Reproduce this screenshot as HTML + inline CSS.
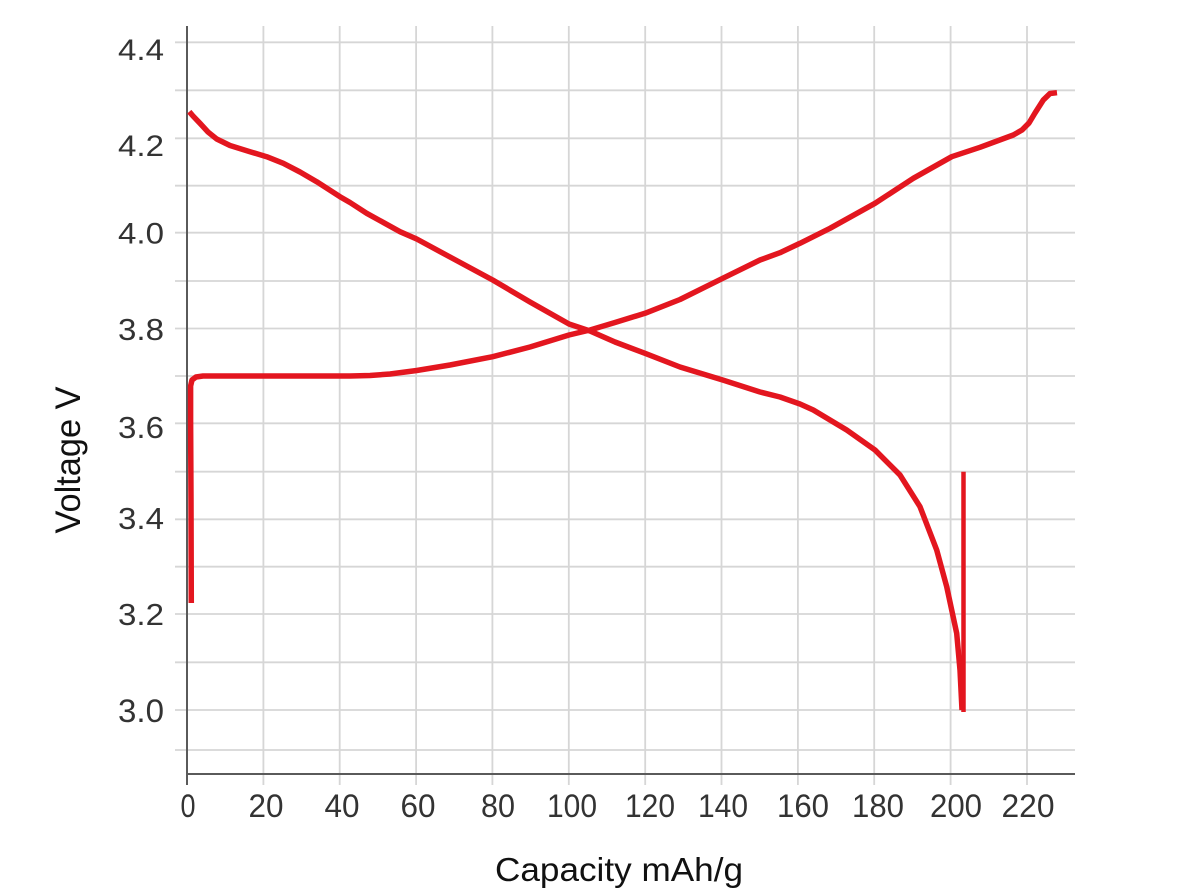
<!DOCTYPE html>
<html>
<head>
<meta charset="utf-8">
<style>
  html,body{margin:0;padding:0;background:#fff;}
  svg{display:block;}
  .tick{font-family:"Liberation Sans",Arial,sans-serif;font-size:32px;fill:#333;}
  .title{font-family:"Liberation Sans",Arial,sans-serif;fill:#111;}
</style>
</head>
<body>
<svg width="1200" height="895" viewBox="0 0 1200 895" xmlns="http://www.w3.org/2000/svg">
  <rect width="1200" height="895" fill="#fff"/>
  <!-- vertical gridlines -->
  <g stroke="#d6d6d6" stroke-width="1.8">
    <line x1="263.4" y1="26" x2="263.4" y2="785"/>
    <line x1="339.7" y1="26" x2="339.7" y2="785"/>
    <line x1="416.1" y1="26" x2="416.1" y2="785"/>
    <line x1="492.4" y1="26" x2="492.4" y2="785"/>
    <line x1="568.8" y1="26" x2="568.8" y2="785"/>
    <line x1="645.2" y1="26" x2="645.2" y2="785"/>
    <line x1="721.5" y1="26" x2="721.5" y2="785"/>
    <line x1="797.9" y1="26" x2="797.9" y2="785"/>
    <line x1="874.2" y1="26" x2="874.2" y2="785"/>
    <line x1="950.6" y1="26" x2="950.6" y2="785"/>
    <line x1="1027" y1="26" x2="1027" y2="785"/>
  </g>
  <!-- horizontal gridlines -->
  <g stroke="#d6d6d6" stroke-width="1.8">
    <line x1="175" y1="42.3" x2="1075" y2="42.3"/>
    <line x1="175" y1="90.3" x2="1075" y2="90.3"/>
    <line x1="175" y1="138.3" x2="1075" y2="138.3"/>
    <line x1="175" y1="185.7" x2="1075" y2="185.7"/>
    <line x1="175" y1="232.7" x2="1075" y2="232.7"/>
    <line x1="175" y1="281" x2="1075" y2="281"/>
    <line x1="175" y1="328.5" x2="1075" y2="328.5"/>
    <line x1="175" y1="376" x2="1075" y2="376"/>
    <line x1="175" y1="423.3" x2="1075" y2="423.3"/>
    <line x1="175" y1="471.7" x2="1075" y2="471.7"/>
    <line x1="175" y1="519.3" x2="1075" y2="519.3"/>
    <line x1="175" y1="566.7" x2="1075" y2="566.7"/>
    <line x1="175" y1="614" x2="1075" y2="614"/>
    <line x1="175" y1="662.3" x2="1075" y2="662.3"/>
    <line x1="175" y1="710" x2="1075" y2="710"/>
    <line x1="175" y1="750" x2="1075" y2="750"/>
  </g>
  <!-- axes -->
  <g stroke="#5a5a5a" stroke-width="2">
    <line x1="187" y1="26" x2="187" y2="785"/>
    <line x1="187" y1="774" x2="1075" y2="774"/>
  </g>

  <!-- y tick labels -->
  <g class="tick" text-anchor="end">
    <text x="164" y="60" font-size="30" textLength="46" lengthAdjust="spacingAndGlyphs">4.4</text>
    <text x="164" y="156" font-size="30" textLength="46" lengthAdjust="spacingAndGlyphs">4.2</text>
    <text x="164" y="243.5" font-size="30" textLength="46" lengthAdjust="spacingAndGlyphs">4.0</text>
    <text x="164" y="340" font-size="31" textLength="46" lengthAdjust="spacingAndGlyphs">3.8</text>
    <text x="164" y="438" font-size="31" textLength="46" lengthAdjust="spacingAndGlyphs">3.6</text>
    <text x="164" y="529" font-size="31" textLength="46" lengthAdjust="spacingAndGlyphs">3.4</text>
    <text x="164" y="625" font-size="31" textLength="46" lengthAdjust="spacingAndGlyphs">3.2</text>
    <text x="164" y="722" font-size="32" textLength="46" lengthAdjust="spacingAndGlyphs">3.0</text>
  </g>
  <!-- x tick labels -->
  <g class="tick" text-anchor="middle">
    <text x="188" y="817" textLength="15" lengthAdjust="spacingAndGlyphs">0</text>
    <text x="266" y="817" textLength="35" lengthAdjust="spacingAndGlyphs">20</text>
    <text x="342" y="817" textLength="35" lengthAdjust="spacingAndGlyphs">40</text>
    <text x="418" y="817" textLength="35" lengthAdjust="spacingAndGlyphs">60</text>
    <text x="498" y="817" textLength="34" lengthAdjust="spacingAndGlyphs">80</text>
    <text x="572" y="817" textLength="50" lengthAdjust="spacingAndGlyphs">100</text>
    <text x="650" y="817" textLength="50" lengthAdjust="spacingAndGlyphs">120</text>
    <text x="723" y="817" textLength="50" lengthAdjust="spacingAndGlyphs">140</text>
    <text x="803" y="817" textLength="52" lengthAdjust="spacingAndGlyphs">160</text>
    <text x="878" y="817" textLength="52" lengthAdjust="spacingAndGlyphs">180</text>
    <text x="956" y="817" textLength="52" lengthAdjust="spacingAndGlyphs">200</text>
    <text x="1028" y="817" textLength="53" lengthAdjust="spacingAndGlyphs">220</text>
  </g>

  <!-- axis titles -->
  <text class="title" x="619" y="881" font-size="33" text-anchor="middle" textLength="248" lengthAdjust="spacingAndGlyphs">Capacity mAh/g</text>
  <text class="title" transform="translate(80,460) rotate(-90)" x="0" y="0" font-size="35" text-anchor="middle" textLength="147" lengthAdjust="spacingAndGlyphs">Voltage V</text>

  <!-- charge curve -->
  <polyline fill="none" stroke="#e3161f" stroke-width="5.5" stroke-linejoin="round" stroke-linecap="butt"
    points="191.3,603 191,500 190.6,420 190.6,386 192,380 196,377 203,376 250,376 300,376 350,376 370,375.5 390,374 416.7,370.5 450,365 492.7,356.7 530,347 569,335 590,330 615,322.5 645,313.3 680,299.5 722.7,278.3 760,260 780,252.7 800,243.3 830,228.3 875,203.3 913.3,178.3 951.7,156.7 980,147.3 1013.3,135 1022,130 1029,123 1035,113 1043.3,100 1050,93.5 1057,92.7"/>
  <!-- discharge curve -->
  <polyline fill="none" stroke="#e3161f" stroke-width="5.5" stroke-linejoin="round" stroke-linecap="butt"
    points="189.3,111.7 193,116 200,123.3 208,132 216.7,139 230,145.5 250,151.7 266.7,156.7 283.3,163.3 300,172 316.7,181.7 340,196.7 350,202.5 366.7,213.3 400,231.7 416.7,239 450,257 492.7,280 530,302 569,324 590,331 615,342 645,353.3 680,367 722.7,380 760,392 780,397 800,404 813.3,410 846.7,430 875,450 900,475 920,506.7 936.7,550 946.7,586.7 956.7,633.3 960,670 962,710"/>
  <!-- vertical segment at end of discharge -->
  <line x1="963.5" y1="471.7" x2="963.5" y2="712" stroke="#e3161f" stroke-width="4.5"/>
</svg>
</body>
</html>
